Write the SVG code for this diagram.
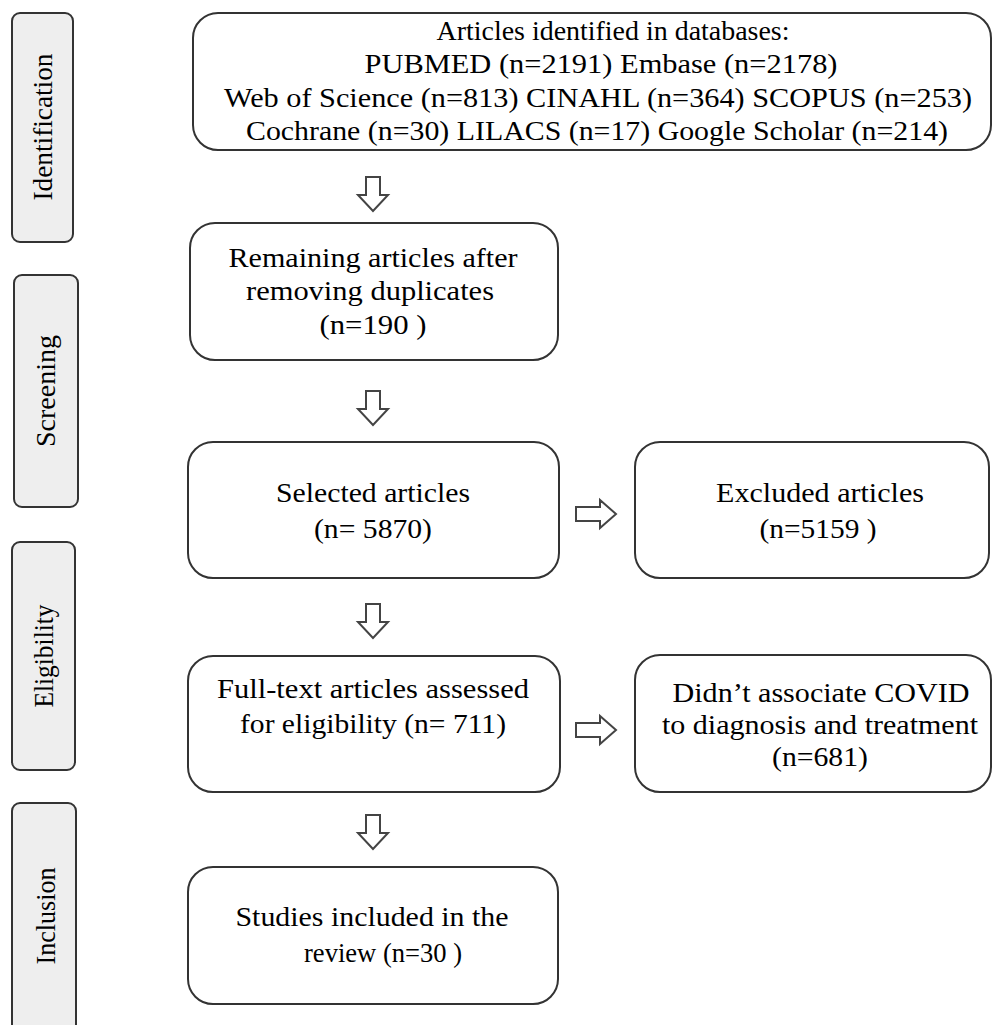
<svg xmlns="http://www.w3.org/2000/svg" width="993" height="1025" viewBox="0 0 993 1025">
<style>
.box{fill:#ffffff;stroke:#333333;stroke-width:2}
.side{fill:#eeeeee;stroke:#333333;stroke-width:2}
text{font-family:"Liberation Serif","Times New Roman",serif;fill:#000000;text-anchor:middle}
.t{font-size:27px}
.s{font-size:27px}
.arr{fill:#ffffff;stroke:#444444;stroke-width:2;stroke-linejoin:miter}
</style>
<rect width="993" height="1025" fill="#ffffff"/>
<g id="stage-identification">
<rect class="side" x="12" y="13" width="61" height="229" rx="8"/>
<text class="s" transform="translate(52,127) rotate(-90)" textLength="147" lengthAdjust="spacingAndGlyphs">Identification</text>
</g>
<g id="stage-screening">
<rect class="side" x="14" y="275" width="64" height="232" rx="8"/>
<text class="s" transform="translate(55,391) rotate(-90)" textLength="112" lengthAdjust="spacingAndGlyphs">Screening</text>
</g>
<g id="stage-eligibility">
<rect class="side" x="12" y="542" width="63" height="228" rx="8"/>
<text class="s" transform="translate(53,656) rotate(-90)" textLength="103" lengthAdjust="spacingAndGlyphs">Eligibility</text>
</g>
<g id="stage-inclusion">
<rect class="side" x="12" y="803" width="64" height="240" rx="8"/>
<text class="s" transform="translate(55,916) rotate(-90)" textLength="97" lengthAdjust="spacingAndGlyphs">Inclusion</text>
</g>
<g id="n-identified">
<rect class="box" x="193" y="13" width="798" height="137" rx="25"/>
<text class="t" x="613" y="40" textLength="353" lengthAdjust="spacingAndGlyphs">Articles identified in databases:</text>
<text class="t" x="601" y="73" textLength="473" lengthAdjust="spacingAndGlyphs">PUBMED (n=2191) Embase (n=2178)</text>
<text class="t" x="598" y="107" textLength="748" lengthAdjust="spacingAndGlyphs">Web of Science (n=813) CINAHL (n=364) SCOPUS (n=253)</text>
<text class="t" x="597" y="140" textLength="702" lengthAdjust="spacingAndGlyphs">Cochrane (n=30) LILACS (n=17) Google  Scholar (n=214)</text>
</g>
<g id="n-remaining">
<rect class="box" x="190" y="223" width="368" height="137" rx="25"/>
<text class="t" x="373" y="267" textLength="289" lengthAdjust="spacingAndGlyphs">Remaining  articles after</text>
<text class="t" x="370" y="300" textLength="248" lengthAdjust="spacingAndGlyphs">removing  duplicates</text>
<text class="t" x="373" y="334" textLength="107" lengthAdjust="spacingAndGlyphs">(n=190 )</text>
</g>
<g id="n-selected">
<rect class="box" x="188" y="442" width="371" height="136" rx="25"/>
<text class="t" x="373" y="502" textLength="194" lengthAdjust="spacingAndGlyphs">Selected articles</text>
<text class="t" x="373" y="538" textLength="118" lengthAdjust="spacingAndGlyphs">(n= 5870)</text>
</g>
<g id="n-excluded">
<rect class="box" x="635" y="442" width="354" height="136" rx="25"/>
<text class="t" x="820" y="502" textLength="208" lengthAdjust="spacingAndGlyphs">Excluded articles</text>
<text class="t" x="818" y="538" textLength="117" lengthAdjust="spacingAndGlyphs">(n=5159 )</text>
</g>
<g id="n-fulltext">
<rect class="box" x="188" y="656" width="372" height="136" rx="25"/>
<text class="t" x="373" y="698" textLength="312" lengthAdjust="spacingAndGlyphs">Full-text articles assessed</text>
<text class="t" x="373" y="733" textLength="266" lengthAdjust="spacingAndGlyphs">for eligibility  (n= 711)</text>
</g>
<g id="n-notassociated">
<rect class="box" x="635" y="655" width="356" height="137" rx="25"/>
<text class="t" x="821" y="702" textLength="297" lengthAdjust="spacingAndGlyphs">Didn’t associate COVID</text>
<text class="t" x="820" y="734" textLength="316" lengthAdjust="spacingAndGlyphs">to diagnosis  and treatment</text>
<text class="t" x="820" y="766" textLength="96" lengthAdjust="spacingAndGlyphs">(n=681)</text>
</g>
<g id="n-included">
<rect class="box" x="188" y="867" width="370" height="137" rx="25"/>
<text class="t" x="372" y="926" textLength="273" lengthAdjust="spacingAndGlyphs">Studies included in the</text>
<text class="t" x="383" y="962" textLength="158" lengthAdjust="spacingAndGlyphs">review (n=30 )</text>
</g>
<g id="connectors">
<path class="arr" d="M366,177 H380 V195 H388 L373,211 L358,195 H366 Z"/>
<path class="arr" d="M366,391 H380 V409 H388 L373,425 L358,409 H366 Z"/>
<path class="arr" d="M366,604 H380 V622 H388 L373,638 L358,622 H366 Z"/>
<path class="arr" d="M366,815 H380 V833 H388 L373,849 L358,833 H366 Z"/>
<path class="arr" d="M576,507 H600 V500 L616,514 L600,528 V521 H576 Z"/>
<path class="arr" d="M576,723 H600 V716 L616,730 L600,744 V737 H576 Z"/>
</g>
</svg>
